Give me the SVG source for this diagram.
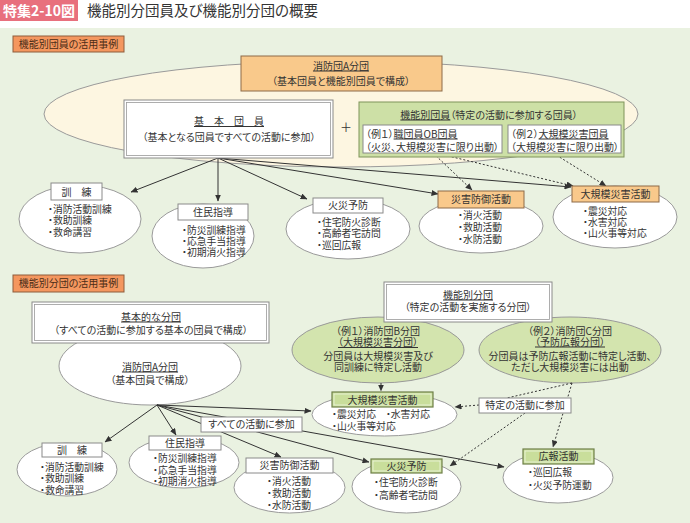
<svg xmlns="http://www.w3.org/2000/svg" width="690" height="523" viewBox="0 0 690 523">
<style>
.t{font-family:"Noto Sans CJK JP","Noto Sans",sans-serif;fill:#333;font-size:10px;font-feature-settings:"palt"}
.i{font-size:9.8px}
.m{text-anchor:middle}
.u{text-decoration:underline}
.ell{fill:#fff;stroke:#9a9a9a;stroke-width:1}
.lbl{fill:#fff;stroke:#8a8a8a;stroke-width:1}
.org{fill:#F9C98B;stroke:#8D6A48;stroke-width:1}
.grn{fill:#C9DE9B;stroke:#6E7F48;stroke-width:1.2}
.grnin{fill:none;stroke:#EEF4DF;stroke-width:0.8}
.dbl{fill:#fff;stroke:#8a8a8a;stroke-width:1}
.dblin{fill:none;stroke:#9a9a9a;stroke-width:0.8}
.ln{stroke:#333;stroke-width:1;fill:none}
.dt{stroke:#333;stroke-width:1;stroke-dasharray:2 2;fill:none}
.sec{fill:#F4975F;stroke:#8E5C3C;stroke-width:1}
</style>
<defs>
<marker id="ah" markerWidth="7" markerHeight="6" refX="6.5" refY="3" orient="auto" markerUnits="userSpaceOnUse">
<path d="M0,0 L7,3 L0,6 z" fill="#333"/>
</marker>
</defs>

<!-- header -->
<g id="header">
<rect x="0" y="0" width="78" height="21" fill="#E8707D"/>
<text x="39" y="16" class="t m" style="font-size:14px;font-weight:bold;fill:#fff">特集2-10図</text>
<text x="87" y="16" class="t" style="font-size:14.5px;fill:#333">機能別分団員及び機能別分団の概要</text>
</g>
<rect x="0" y="28" width="690" height="495" fill="#EAF2E1"/>

<g id="section1-label">
<rect x="13" y="36" width="111" height="16" class="sec"/>
<text x="68.5" y="47.5" class="t m" style="fill:#4a2c17">機能別団員の活用事例</text>
</g>
<g id="section2-label">
<rect x="13" y="275" width="111" height="17" class="sec"/>
<text x="68.5" y="287" class="t m" style="fill:#4a2c17">機能別分団の活用事例</text>
</g>

<!-- containers -->
<g id="groupA-ellipse">
<ellipse cx="341" cy="114" rx="297" ry="53" fill="#FDF6E1" stroke="#9a9a9a"/>
</g>
<g id="lower-A-ellipse">
<ellipse cx="150" cy="366" rx="91" ry="39" class="ell"/>
<text x="150" y="370.5" class="t m"><tspan class="u">消防団A分団</tspan></text>
<text x="150" y="383.5" class="t m">（基本団員で構成）</text>
</g>
<g id="unitB">
<ellipse cx="378" cy="350" rx="86" ry="33" fill="#D3E4AE" stroke="#999"/>
<text x="378" y="334.5" class="t m">（例１）消防団B分団</text>
<text x="378" y="346" class="t m"><tspan class="u">（大規模災害分団）</tspan></text>
<text x="378" y="359.5" class="t m">分団員は大規模災害及び</text>
<text x="378" y="371" class="t m">同訓練に特定し活動</text>
</g>
<g id="unitC">
<ellipse cx="570" cy="350" rx="91" ry="33" fill="#D3E4AE" stroke="#999"/>
<text x="570" y="334.5" class="t m">（例２）消防団C分団</text>
<text x="570" y="345.5" class="t m"><tspan class="u">（予防広報分団）</tspan></text>
<text x="570" y="359.5" class="t m">分団員は予防広報活動に特定し活動、</text>
<text x="570" y="371" class="t m">ただし大規模災害には出動</text>
</g>

<!-- connectors -->
<g id="connectors">
<path class="ln" marker-end="url(#ah)" d="M218,158 L131,192"/>
<path class="ln" marker-end="url(#ah)" d="M218,158 L218,201"/>
<path class="ln" marker-end="url(#ah)" d="M218,158 L307,199"/>
<path class="ln" marker-end="url(#ah)" d="M218,158 L438,194"/>
<path class="ln" marker-end="url(#ah)" d="M218,158 L571,187"/>
<path class="dt" marker-end="url(#ah)" d="M433,153 L472,190"/>
<path class="dt" marker-end="url(#ah)" d="M440,154 L573,186"/>
<path class="dt" marker-end="url(#ah)" d="M553,153 L606,186"/>
<path class="ln" marker-end="url(#ah)" d="M157,405 L105,442"/>
<path class="ln" marker-end="url(#ah)" d="M157,405 L176,435"/>
<path class="ln" marker-end="url(#ah)" d="M157,405 L281,457"/>
<path class="ln" marker-end="url(#ah)" d="M157,405 L369,462"/>
<path class="ln" marker-end="url(#ah)" d="M157,405 L504,467"/>
<path class="ln" marker-end="url(#ah)" d="M157,405 L311,411"/>
<path class="dt" marker-end="url(#ah)" d="M381,383 L381,391"/>
<path class="dt" d="M572,383 L507,398"/>
<path class="dt" marker-end="url(#ah)" d="M572,383 L553,447"/>
<path class="dt" marker-end="url(#ah)" d="M479,405 L455,407"/>
<path class="dt" marker-end="url(#ah)" d="M525,413 L450,466"/>
</g>

<!-- upper nodes -->
<g id="unitA-title">
<rect x="241" y="56" width="201" height="35" class="org"/>
<text x="341" y="69.5" class="t m"><tspan class="u">消防団A分団</tspan></text>
<text x="341" y="84.5" class="t m">（基本団員と機能別団員で構成）</text>
</g>
<g id="basic-members">
<rect x="124" y="100" width="209" height="58" class="dbl"/>
<rect x="126.5" y="102.5" width="204" height="53" class="dblin"/>
<text x="229" y="125" class="t m"><tspan class="u">基　本　団　員</tspan></text>
<text x="229" y="140.5" class="t m">（基本となる団員ですべての活動に参加）</text>
</g>
<text x="346" y="132" class="t m" style="font-size:12px">＋</text>
<g id="functional-members">
<rect x="359" y="102" width="265" height="55" fill="#CDE0A6" stroke="#7F935A"/>
<text x="489" y="118.5" class="t m"><tspan class="u">機能別団員</tspan>（特定の活動に参加する団員）</text>
<rect x="363" y="125" width="139" height="28" class="lbl"/>
<text x="366" y="137.5" class="t">（例１）<tspan class="u">職団員OB団員</tspan></text>
<text x="366" y="150.5" class="t">（火災、大規模災害に限り出動）</text>
<rect x="508" y="125" width="113" height="28" class="lbl"/>
<text x="511" y="137.5" class="t">（例２）<tspan class="u">大規模災害団員</tspan></text>
<text x="511" y="150.5" class="t">（大規模災害に限り出動）</text>
</g>

<g id="u-training">
<ellipse cx="80" cy="219" rx="61" ry="34" class="ell"/>
<rect x="51" y="183" width="51" height="17" class="lbl"/>
<text x="76.5" y="195.5" class="t m">訓　練</text>
<text x="48" y="212.5" class="t i">・消防活動訓練</text>
<text x="48" y="224" class="t i">・救助訓練</text>
<text x="48" y="235.5" class="t i">・救命講習</text>
</g>
<g id="u-guidance">
<ellipse cx="203" cy="236" rx="51" ry="32" class="ell"/>
<rect x="178" y="204" width="70" height="16" class="lbl"/>
<text x="213" y="215.5" class="t m">住民指導</text>
<text x="182" y="233.5" class="t i">・防災訓練指導</text>
<text x="182" y="245" class="t i">・応急手当指導</text>
<text x="182" y="256" class="t i">・初期消火指導</text>
</g>
<g id="u-fireprev">
<ellipse cx="348" cy="229" rx="62" ry="30" class="ell"/>
<rect x="313" y="198" width="70" height="15" class="lbl"/>
<text x="348" y="209" class="t m">火災予防</text>
<text x="317" y="225.5" class="t i">・住宅防火診断</text>
<text x="317" y="237" class="t i">・高齢者宅訪問</text>
<text x="317" y="248.5" class="t i">・巡回広報</text>
</g>
<g id="u-defense">
<ellipse cx="481" cy="226" rx="62" ry="27" class="ell"/>
<rect x="438" y="191" width="86" height="17" class="org"/>
<text x="481" y="203" class="t m">災害防御活動</text>
<text x="458" y="218.5" class="t i">・消火活動</text>
<text x="458" y="230.5" class="t i">・救助活動</text>
<text x="458" y="242.5" class="t i">・水防活動</text>
</g>
<g id="u-disaster">
<ellipse cx="615" cy="217" rx="62" ry="31" class="ell"/>
<rect x="572" y="186" width="87" height="16" class="org"/>
<text x="615.5" y="197.5" class="t m">大規模災害活動</text>
<text x="583" y="214.5" class="t i">・震災対応</text>
<text x="583" y="225.5" class="t i">・水害対応</text>
<text x="583" y="236.5" class="t i">・山火事等対応</text>
</g>

<!-- lower nodes -->
<g id="basic-unit">
<rect x="32" y="302" width="237" height="41" class="dbl"/>
<rect x="34.5" y="304.5" width="232" height="36" class="dblin"/>
<text x="151" y="320.5" class="t m"><tspan class="u">基本的な分団</tspan></text>
<text x="151" y="333.5" class="t m">（すべての活動に参加する基本の団員で構成）</text>
</g>
<g id="functional-unit">
<rect x="384" y="282" width="168" height="40" class="dbl"/>
<rect x="386.5" y="284.5" width="163" height="35" class="dblin"/>
<text x="468" y="298.5" class="t m"><tspan class="u">機能別分団</tspan></text>
<text x="468" y="311" class="t m">（特定の活動を実施する分団）</text>
</g>
<g id="l-all">
<rect x="201" y="417" width="101" height="15" class="lbl"/>
<text x="251.5" y="428" class="t m">すべての活動に参加</text>
</g>
<g id="l-specific">
<rect x="479" y="398" width="92" height="15" class="lbl"/>
<text x="525" y="409" class="t m">特定の活動に参加</text>
</g>
<g id="l-disaster">
<ellipse cx="384.5" cy="414.5" rx="72.5" ry="21.5" class="ell"/>
<rect x="332" y="392" width="101" height="15" class="grn"/>
<rect x="334" y="394" width="97" height="11" class="grnin"/>
<text x="382.5" y="403.5" class="t m">大規模災害活動</text>
<text x="332" y="417.5" class="t i">・震災対応　・水害対応</text>
<text x="332" y="429.5" class="t i">・山火事等対応</text>
</g>
<g id="l-training">
<ellipse cx="67" cy="469.5" rx="50" ry="26.5" class="ell"/>
<rect x="42" y="443" width="60" height="14" class="lbl"/>
<text x="72" y="453.5" class="t m">訓　練</text>
<text x="40" y="470.5" class="t i">・消防活動訓練</text>
<text x="40" y="481.5" class="t i">・救助訓練</text>
<text x="40" y="493.5" class="t i">・救命講習</text>
</g>
<g id="l-guidance">
<ellipse cx="184" cy="462.5" rx="55" ry="25.5" class="ell"/>
<rect x="149" y="436" width="72" height="14" class="lbl"/>
<text x="185" y="446.5" class="t m">住民指導</text>
<text x="153" y="461.5" class="t i">・防災訓練指導</text>
<text x="153" y="473.5" class="t i">・応急手当指導</text>
<text x="153" y="484.5" class="t i">・初期消火指導</text>
</g>
<g id="l-defense">
<ellipse cx="289.5" cy="487.5" rx="55.5" ry="25.5" class="ell"/>
<rect x="246" y="458" width="87" height="15" class="lbl"/>
<text x="289.5" y="469" class="t m">災害防御活動</text>
<text x="267" y="484.5" class="t i">・消火活動</text>
<text x="267" y="496.5" class="t i">・救助活動</text>
<text x="267" y="508.5" class="t i">・水防活動</text>
</g>
<g id="l-fireprev">
<ellipse cx="406.5" cy="486.5" rx="54.5" ry="26.5" class="ell"/>
<rect x="371" y="459" width="71" height="14" class="grn"/>
<rect x="373" y="461" width="67" height="10" class="grnin"/>
<text x="406.5" y="469.5" class="t m">火災予防</text>
<text x="374" y="485.5" class="t i">・住宅防火診断</text>
<text x="374" y="498.5" class="t i">・高齢者宅訪問</text>
</g>
<g id="l-pr">
<ellipse cx="558" cy="477.5" rx="55" ry="25.5" class="ell"/>
<rect x="523" y="449" width="71" height="15" class="grn"/>
<rect x="525" y="451" width="67" height="11" class="grnin"/>
<text x="558.5" y="460" class="t m">広報活動</text>
<text x="528" y="475.5" class="t i">・巡回広報</text>
<text x="528" y="488.5" class="t i">・火災予防運動</text>
</g>
</svg>
